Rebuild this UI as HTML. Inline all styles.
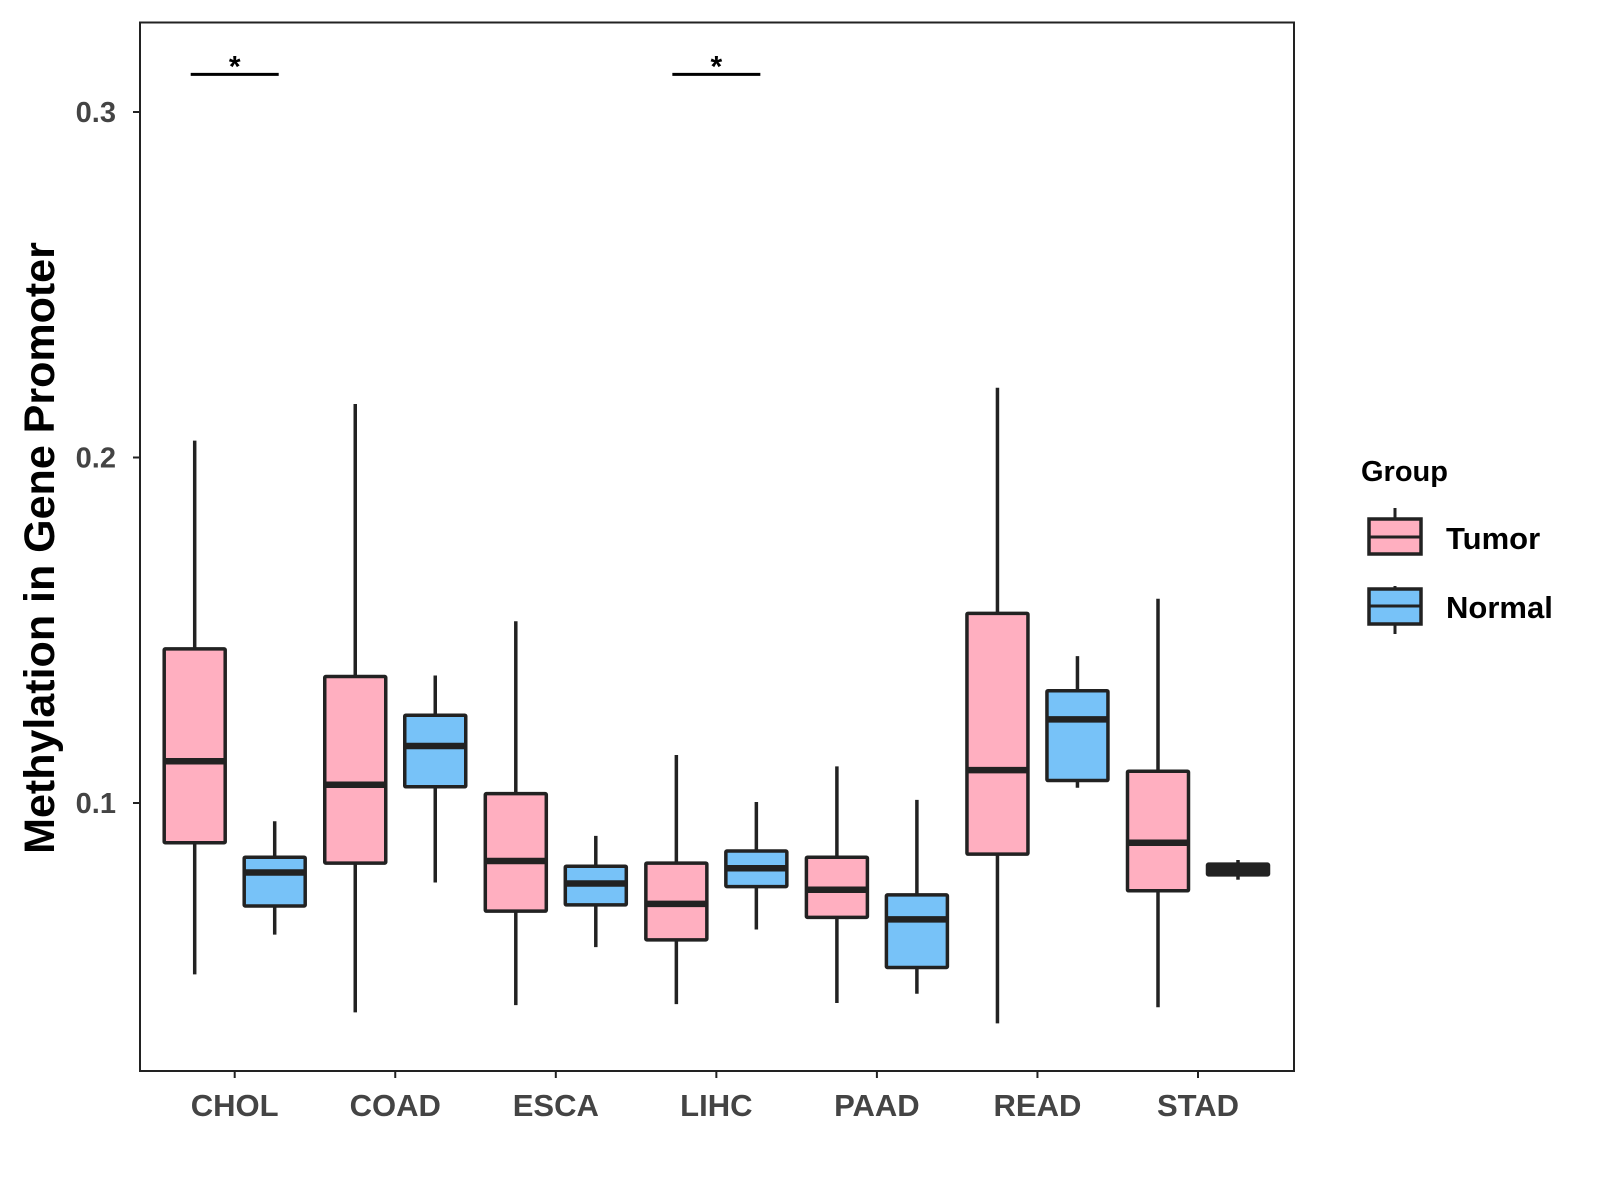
<!DOCTYPE html>
<html><head><meta charset="utf-8"><style>html,body{margin:0;padding:0;background:#fff}svg{display:block}text{font-family:"Liberation Sans",Arial,sans-serif;font-weight:bold}</style></head>
<body>
<svg id="chart" width="1600" height="1200" viewBox="0 0 1600 1200">
<rect x="140" y="22.5" width="1154" height="1048.5" fill="#fff" stroke="#222" stroke-width="2"/>
<g id="marks"></g>
<text transform="translate(54,548) rotate(-90)" text-anchor="middle" font-size="43" fill="#000">Methylation in Gene Promoter</text>
<g>
<text x="1361" y="481" font-size="29" fill="#000">Group</text>
<g>
<line x1="1395" y1="508" x2="1395" y2="555" stroke="#222" stroke-width="3"/>
<rect x="1369" y="519" width="52" height="35" fill="#FFAFC0" stroke="#222" stroke-width="3.5"/>
<line x1="1369" y1="537" x2="1421" y2="537" stroke="#222" stroke-width="3"/>
<text x="1446" y="549" font-size="31" fill="#000">Tumor</text>
</g>
<g>
<line x1="1395" y1="586" x2="1395" y2="634" stroke="#222" stroke-width="3"/>
<rect x="1369" y="589" width="52" height="35" fill="#77C2F8" stroke="#222" stroke-width="3.5"/>
<line x1="1369" y1="606" x2="1421" y2="606" stroke="#222" stroke-width="3"/>
<text x="1446" y="618" font-size="31" fill="#000">Normal</text>
</g>
</g>
</svg>
<script>
const categories=["CHOL","COAD","ESCA","LIHC","PAAD","READ","STAD"];
const tumorLow=[0.0504,0.0394,0.0415,0.0418,0.0421,0.0362,0.0409];
const tumorQ1=[0.0885,0.0826,0.0687,0.0604,0.0669,0.0852,0.0746];
const tumorMed=[0.1121,0.1053,0.0832,0.0708,0.0749,0.1095,0.0885];
const tumorQ3=[0.1446,0.1366,0.1027,0.0826,0.0843,0.1549,0.1092];
const tumorHigh=[0.2049,0.2155,0.1526,0.1139,0.1106,0.2202,0.1591];
const normalLow=[0.0619,0.0770,0.0583,0.0634,0.0448,0.1044,0.0778];
const normalQ1=[0.0702,0.1047,0.0705,0.0758,0.0524,0.1065,0.0792];
const normalMed=[0.0799,0.1165,0.0767,0.0811,0.0663,0.1242,0.0808];
const normalQ3=[0.0843,0.1254,0.0817,0.0861,0.0734,0.1325,0.0823];
const normalHigh=[0.0947,0.1369,0.0905,0.1003,0.1009,0.1425,0.0835];
const yTicks=[0.1,0.2,0.3];
const yTickLabels=["0.1","0.2","0.3"];
const sigCategories=["CHOL","LIHC"];
const sigLevel=0.3109;

const NS="http://www.w3.org/2000/svg";
const g=document.getElementById('marks');
function y(v){return 803-(v-0.1)*3455;}
function x(i){return 234.7+i*160.55;}
function mk(tag,at,parent){const e=document.createElementNS(NS,tag);for(const k in at)e.setAttribute(k,at[k]);(parent||g).appendChild(e);return e;}

yTicks.forEach((t,i)=>{
  const l=mk('line',{x1:133,x2:140,y1:y(t),y2:y(t),stroke:'#222','stroke-width':2});
  
  
  const tx=mk('text',{x:116,y:y(t)+10,'text-anchor':'end','font-size':29,fill:'#444'});
  tx.textContent=yTickLabels[i];
  
  
});
categories.forEach((c,i)=>{
  const l=mk('line',{x1:x(i),x2:x(i),y1:1071,y2:1078,stroke:'#222','stroke-width':2});
  
  
  const tx=mk('text',{x:x(i),y:1116,'text-anchor':'middle','font-size':31,fill:'#444'});
  tx.textContent=c;
  
  
});
function box(cx,lo,q1,md,q3,hi,fill,name){
  const grp=mk('g',{});
  
  
  mk('line',{x1:cx,x2:cx,y1:y(hi),y2:y(lo),stroke:'#222','stroke-width':3.5},grp);
  const h=y(q1)-y(q3);
  mk('rect',{x:cx-30.5,y:y(q3),width:61,height:Math.max(h,1),fill:h<12?'#222':fill,stroke:'#222','stroke-width':3.5,rx:1},grp);
  mk('line',{x1:cx-30.5,x2:cx+30.5,y1:y(md),y2:y(md),stroke:'#222','stroke-width':6.5},grp);
}
categories.forEach((c,i)=>{
  box(x(i)-40,tumorLow[i],tumorQ1[i],tumorMed[i],tumorQ3[i],tumorHigh[i],'#FFAFC0','box-tumor-'+c.toLowerCase());
  box(x(i)+40,normalLow[i],normalQ1[i],normalMed[i],normalQ3[i],normalHigh[i],'#77C2F8','box-normal-'+c.toLowerCase());
});
sigCategories.forEach(c=>{
  const i=categories.indexOf(c);
  const l=mk('line',{x1:x(i)-44,x2:x(i)+44,y1:y(sigLevel),y2:y(sigLevel),stroke:'#000','stroke-width':3});
  
  
  const t=mk('text',{x:x(i),y:y(sigLevel)+2,'text-anchor':'middle','font-size':30,fill:'#000'});
  t.textContent='*';
  
  
});
</script>
</body></html>
